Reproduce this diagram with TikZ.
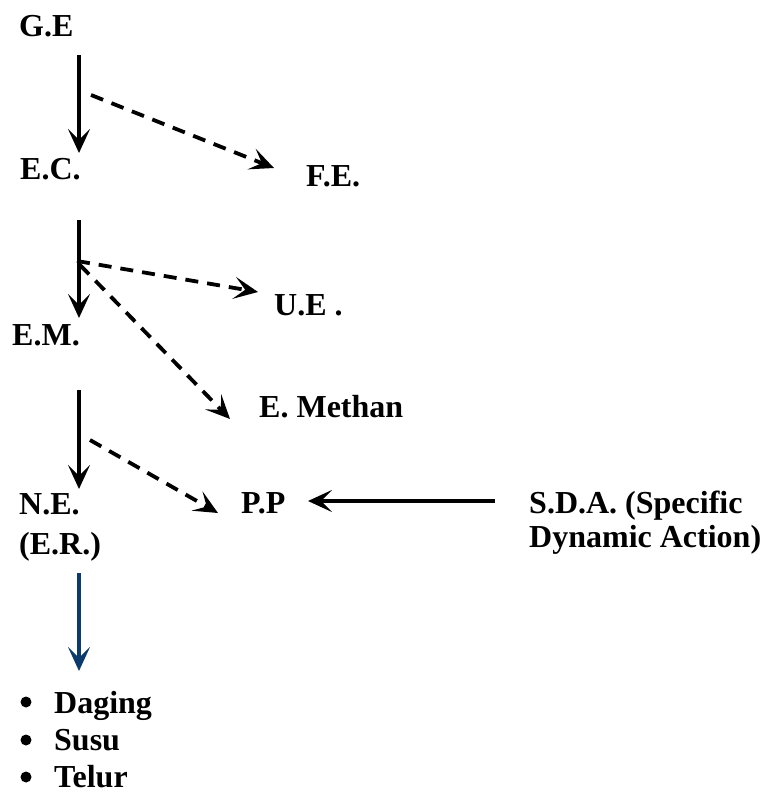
\documentclass[tikz,border=0pt]{standalone}
\usepackage{fontspec}
\setmainfont{Liberation Serif}
\usepackage{xcolor}
\usetikzlibrary{arrows.meta,positioning}

\definecolor{navyarrow}{RGB}{12,58,108}

\begin{document}
\begin{tikzpicture}[
    x=1pt, y=-1pt,
    font=\bfseries\fontsize{32}{37}\selectfont,
    lbl/.style={inner sep=0pt, anchor=base west, align=left},
    arrow/.style={-{Stealth[length=24pt, width=22pt, inset=11pt]}, line width=3.8pt, color=black},
    dasharrow/.style={arrow, dash pattern=on 13pt off 9pt},
    bluearrow/.style={arrow, color=navyarrow}
]
    \useasboundingbox (0,0) rectangle (764,794);

    % energy labels
    \node[lbl] (ge) at (19,37) {G.E};
    \node[lbl] (ec) at (20,180) {E.C.};
    \node[lbl] (fe) at (306,187) {F.E.};
    \node[lbl] (ue) at (274,315) {U.E .};
    \node[lbl] (em) at (12,345) {E.M.};
    \node[lbl] (meth) at (259,417) {E. Methan};
    \node[lbl, anchor=north west, font=\bfseries\fontsize{32}{40}\selectfont] (ne) at (19,493) {N.E.\\(E.R.)};
    \node[lbl] (pp) at (241,513) {P.P};
    \node[lbl, anchor=north west, font=\bfseries\fontsize{32}{34}\selectfont] (sda) at (529,491) {S.D.A. (Specific\\Dynamic Action)};
    \node[lbl, anchor=north west] (foods) at (54,691) {Daging\\Susu\\Telur};

    % list bullets
    \foreach \y in {702,740,777}
        \fill (26,\y) circle (5.5pt);

    % free ends of the arrows
    \coordinate (ge-out) at (79,55);
    \coordinate (ec-in) at (79,153);
    \coordinate (ge-split) at (91,95);
    \coordinate (fe-in) at (274,168);
    \coordinate (ec-out) at (79,220);
    \coordinate (em-in) at (79,318);
    \coordinate (ec-split) at (77,261);
    \coordinate (ue-in) at (258,292);
    \coordinate (ec-split2) at (80,265);
    \coordinate (meth-in) at (230,419);
    \coordinate (em-out) at (79,390);
    \coordinate (ne-in) at (79,489);
    \coordinate (em-split) at (90,440);
    \coordinate (pp-in) at (218,513);
    \coordinate (sda-out) at (495,501);
    \coordinate (pp-in2) at (308,501);
    \coordinate (ne-out) at (79,573);
    \coordinate (foods-in) at (79,671);

    \draw[arrow] (ge-out) -- (ec-in);
    \draw[dasharrow] (ge-split) -- (fe-in);
    \draw[arrow] (ec-out) -- (em-in);
    \draw[dasharrow] (ec-split) -- (ue-in);
    \draw[dasharrow] (ec-split2) -- (meth-in);
    \draw[arrow] (em-out) -- (ne-in);
    \draw[dasharrow] (em-split) -- (pp-in);
    \draw[arrow] (sda-out) -- (pp-in2);
    \draw[bluearrow] (ne-out) -- (foods-in);

\end{tikzpicture}
\end{document}
